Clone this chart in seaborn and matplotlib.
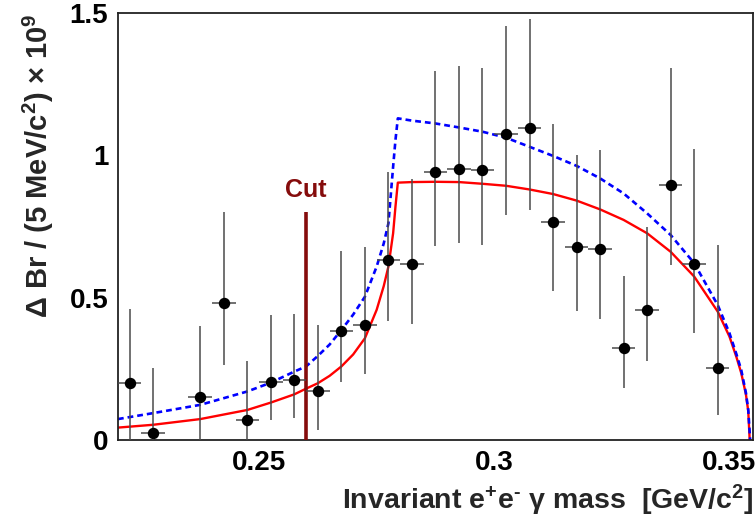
import numpy as np
import pandas as pd
import seaborn as sns
import matplotlib
matplotlib.use('Agg')
import matplotlib.pyplot as plt
from matplotlib.ticker import MultipleLocator

# data points (bin centres, 5 MeV bins)
mass = [0.2225, 0.2275, 0.2375, 0.2425, 0.2475, 0.2525, 0.2575, 0.2625,
        0.2675, 0.2725, 0.2775, 0.2825, 0.2875, 0.2925, 0.2975, 0.3025,
        0.3075, 0.3125, 0.3175, 0.3225, 0.3275, 0.3325, 0.3375, 0.3425, 0.3475]
dbr = [0.199, 0.023, 0.149, 0.480, 0.068, 0.203, 0.211, 0.172,
       0.384, 0.404, 0.632, 0.617, 0.940, 0.953, 0.948, 1.074,
       1.095, 0.767, 0.677, 0.670, 0.324, 0.455, 0.896, 0.618, 0.253]
err_up = [0.26, 0.23, 0.25, 0.32, 0.21, 0.237, 0.23, 0.23,
          0.28, 0.273, 0.31, 0.30, 0.356, 0.36, 0.36, 0.38,
          0.384, 0.343, 0.325, 0.349, 0.252, 0.293, 0.41, 0.403, 0.432]
err_dn = [0.26, 0.23, 0.25, 0.217, 0.21, 0.135, 0.135, 0.137,
          0.18, 0.172, 0.213, 0.21, 0.26, 0.26, 0.264, 0.284,
          0.287, 0.243, 0.224, 0.246, 0.143, 0.179, 0.281, 0.243, 0.165]
bin_half = 0.0025

# red solid curve
red_x = [0.220, 0.2275, 0.2375, 0.2475, 0.2525, 0.2575, 0.260, 0.2625, 0.265,
         0.2675, 0.270, 0.2725, 0.275, 0.2765, 0.2775, 0.2785, 0.279, 0.2795,
         0.2825, 0.2875, 0.2925, 0.2975, 0.3025, 0.3075, 0.3125, 0.3175,
         0.3225, 0.3275, 0.3325, 0.3375, 0.3425, 0.3475, 0.350, 0.3515,
         0.3525, 0.3535, 0.354, 0.3543]
red_y = [0.043, 0.053, 0.073, 0.105, 0.131, 0.160, 0.180, 0.199, 0.225,
         0.258, 0.300, 0.357, 0.457, 0.540, 0.609, 0.726, 0.820, 0.904,
         0.906, 0.907, 0.906, 0.900, 0.893, 0.880, 0.864, 0.841,
         0.810, 0.773, 0.726, 0.661, 0.574, 0.451, 0.363, 0.290,
         0.235, 0.160, 0.100, 0.0]

# blue dashed curve
blue_x = [0.220, 0.2275, 0.2375, 0.2475, 0.2525, 0.2575, 0.260, 0.2625, 0.265,
          0.2675, 0.270, 0.2725, 0.275, 0.2765, 0.2775, 0.2785, 0.279, 0.2795,
          0.2825, 0.2875, 0.2925, 0.2975, 0.3025, 0.3075, 0.3125, 0.3175,
          0.3225, 0.3275, 0.3325, 0.3375, 0.3425, 0.3475, 0.350, 0.3515,
          0.3525, 0.3535, 0.354, 0.3544]
blue_y = [0.073, 0.094, 0.123, 0.170, 0.201, 0.240, 0.258, 0.295, 0.335,
          0.386, 0.440, 0.503, 0.609, 0.690, 0.761, 0.960, 1.054, 1.130,
          1.122, 1.112, 1.098, 1.083, 1.062, 1.030, 0.998, 0.963,
          0.919, 0.866, 0.796, 0.720, 0.621, 0.474, 0.375, 0.300,
          0.246, 0.165, 0.105, 0.0]

cut_x = 0.26
cut_top = 0.80
cut_text_y = 0.855

xtick_vals = [0.25, 0.3, 0.35]
xtick_labels = ['0.25', '0.3', '0.35']
ytick_vals = [0, 0.5, 1, 1.5]
ytick_labels = ['0', '0.5', '1', '1.5']

sns.set_style('white')
plt.rcParams['font.family'] = ['Liberation Sans', 'DejaVu Sans']
plt.rcParams['font.weight'] = 'bold'
plt.rcParams['mathtext.fontset'] = 'custom'
plt.rcParams['mathtext.rm'] = 'Liberation Sans:bold'
plt.rcParams['mathtext.bf'] = 'Liberation Sans:bold'
plt.rcParams['mathtext.it'] = 'Liberation Sans'

fig = plt.figure(figsize=(7.56, 5.23), dpi=100)
ax = fig.add_axes([0.156, 0.159, 0.84, 0.816])

red = pd.DataFrame({'x': red_x, 'y': red_y})
blue = pd.DataFrame({'x': blue_x, 'y': blue_y})
sns.lineplot(data=red, x='x', y='y', ax=ax, color='#ff0000', lw=1.7, sort=False)
sns.lineplot(data=blue, x='x', y='y', ax=ax, color='#0000ff', lw=1.9, sort=False)
ax.lines[-1].set_dashes((2.2, 1.5))

ax.vlines(cut_x, 0, cut_top, color='#850c0c', lw=2.6, zorder=3)
ax.text(cut_x, cut_text_y, 'Cut', ha='center', va='baseline', fontsize=18,
        color='#850c0c', fontweight='bold')

ax.errorbar(mass, dbr, xerr=bin_half, yerr=[err_dn, err_up], fmt='o',
            color='black', ecolor='#4a4a4a', elinewidth=1.1, capsize=0,
            ms=7.2, zorder=4)

ax.set_xlim(0.22, 0.355)
ax.set_ylim(0, 1.5)
ax.set_xticks(xtick_vals)
ax.set_xticklabels(xtick_labels)
ax.set_yticks(ytick_vals)
ax.set_yticklabels(ytick_labels)
ax.xaxis.set_minor_locator(MultipleLocator(0.01))
ax.yaxis.set_minor_locator(MultipleLocator(0.1))

ax.tick_params(axis='both', which='both', direction='in', colors='black',
               labelsize=20, width=1.1, top=False, right=False)
ax.tick_params(axis='x', which='major', length=9.5, pad=7)
ax.tick_params(axis='x', which='minor', length=5)
ax.tick_params(axis='y', which='major', length=14, pad=7)
ax.tick_params(axis='y', which='minor', length=7)
for lbl in ax.get_xticklabels() + ax.get_yticklabels():
    lbl.set_fontweight('bold')

for sp in ax.spines.values():
    sp.set_visible(True)
    sp.set_color('#222222')
    sp.set_linewidth(1.3)

ax.set_xlabel(r'Invariant e$^{+}$e$^{\text{-}}$ $\gamma$ mass  [GeV/c$^{2}$]',
              loc='right', fontsize=20.5, fontweight='bold', labelpad=5)
ax.set_ylabel(r'$\Delta$ Br / (5 MeV/c$^{2}$) $\times$ 10$^{9}$',
              loc='top', fontsize=21, fontweight='bold', labelpad=10)

plt.savefig('out.png', dpi=100)
